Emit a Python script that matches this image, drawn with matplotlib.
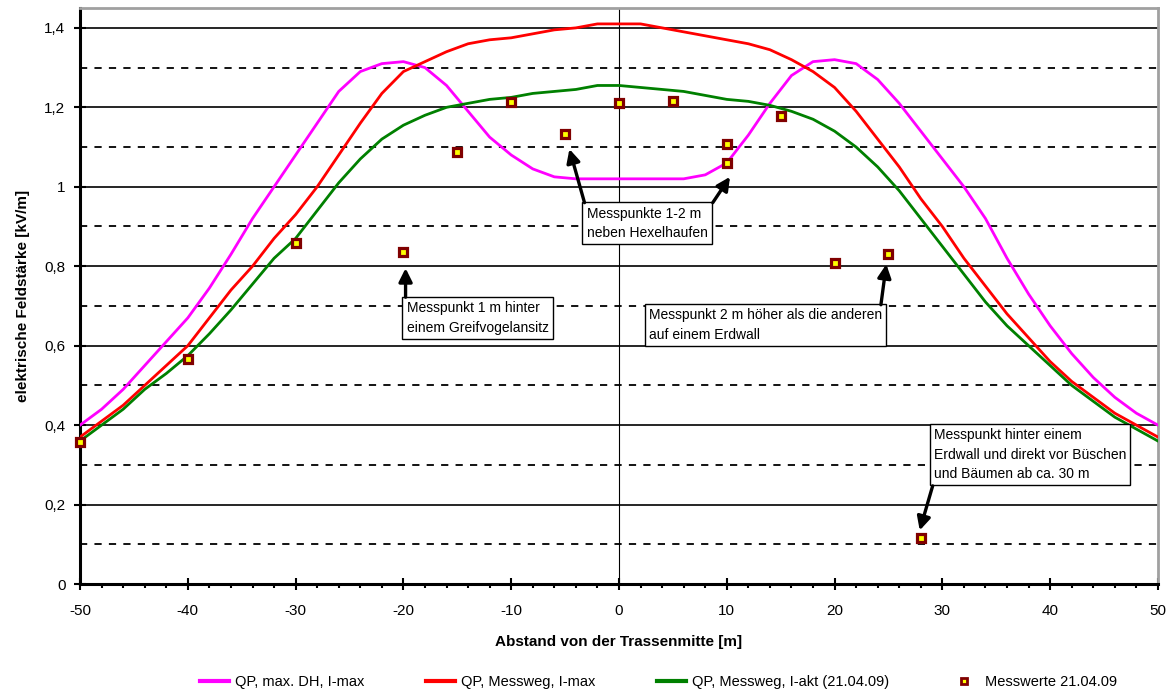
import matplotlib
matplotlib.use("Agg")
import matplotlib.pyplot as plt
from matplotlib.lines import Line2D
from matplotlib.ticker import MultipleLocator, FuncFormatter

plt.rcParams["font.family"] = ["Liberation Sans Narrow", "Liberation Sans", "DejaVu Sans"]
plt.rcParams["axes.unicode_minus"] = False

# distance from line centre [m]
X_CALC = list(range(-50, 51, 2))

# QP, max. DH, I-max
E_MAX_DH = [0.40, 0.44, 0.49, 0.55, 0.61, 0.67, 0.745, 0.83, 0.92, 1.00, 1.08, 1.16, 1.24,
            1.29, 1.31, 1.315, 1.30, 1.255, 1.19, 1.125, 1.08, 1.045, 1.025, 1.02, 1.02,
            1.02, 1.02, 1.02, 1.02, 1.03, 1.06, 1.13, 1.21, 1.28, 1.315, 1.32, 1.31, 1.27,
            1.21, 1.14, 1.07, 1.00, 0.92, 0.82, 0.73, 0.65, 0.58, 0.52, 0.47, 0.43, 0.40]

# QP, Messweg, I-max
E_MESSWEG_MAX = [0.37, 0.41, 0.45, 0.50, 0.55, 0.60, 0.67, 0.74, 0.80, 0.87, 0.93, 1.00,
                 1.08, 1.16, 1.235, 1.29, 1.315, 1.34, 1.36, 1.37, 1.375, 1.385, 1.395, 1.40,
                 1.41, 1.41, 1.41, 1.40, 1.39, 1.38, 1.37, 1.36, 1.345, 1.32, 1.29, 1.25,
                 1.19, 1.12, 1.05, 0.97, 0.90, 0.82, 0.75, 0.68, 0.62, 0.56, 0.51, 0.47,
                 0.43, 0.40, 0.37]

# QP, Messweg, I-akt (21.04.09)
E_MESSWEG_AKT = [0.36, 0.40, 0.44, 0.49, 0.53, 0.575, 0.63, 0.69, 0.755, 0.82, 0.87, 0.94,
                 1.01, 1.07, 1.12, 1.155, 1.18, 1.20, 1.21, 1.22, 1.225, 1.235, 1.24, 1.245,
                 1.255, 1.255, 1.25, 1.245, 1.24, 1.23, 1.22, 1.215, 1.205, 1.19, 1.17, 1.14,
                 1.10, 1.05, 0.99, 0.92, 0.85, 0.78, 0.71, 0.65, 0.60, 0.55, 0.50, 0.46,
                 0.42, 0.39, 0.36]

# Messwerte 21.04.09
X_MESS = [-50, -40, -30, -20, -15, -10, -5, 0, 5, 10, 10, 15, 20, 25, 28]
E_MESS = [0.357, 0.566, 0.858, 0.835, 1.088, 1.213, 1.133, 1.21, 1.216, 1.108, 1.06,
          1.178, 0.808, 0.831, 0.116]

LABELS = ["QP, max. DH, I-max", "QP, Messweg, I-max",
          "QP, Messweg, I-akt (21.04.09)", "Messwerte 21.04.09"]
COLORS = ["#FF00FF", "#FF0000", "#008000"]

fig = plt.figure(figsize=(11.72, 6.97), dpi=100)
ax = fig.add_axes([0.0683, 0.1621, 0.9197, 0.8264])

# horizontal grid: solid on 0.2 steps, dashed in between
for i in range(1, 15):
    v = i / 10
    if i % 2 == 0:
        ax.axhline(v, color="black", lw=1.2, zorder=0)
    else:
        ax.axhline(v, color="black", lw=1.3, ls=(0, (4, 4)), zorder=0)
ax.axvline(0, color="black", lw=0.8, zorder=0)

ax.plot(X_CALC, E_MAX_DH, color=COLORS[0], lw=2, zorder=3)
ax.plot(X_CALC, E_MESSWEG_MAX, color=COLORS[1], lw=2, zorder=3)
ax.plot(X_CALC, E_MESSWEG_AKT, color=COLORS[2], lw=2, zorder=3)
ax.plot(X_MESS, E_MESS, ls="none", marker="s", ms=5.5, mfc="#FFFF00",
        mec="#800000", mew=2.3, zorder=5, clip_on=False)

ax.set_xlim(-50, 50)
ax.set_ylim(0, 1.45)
ax.xaxis.set_major_locator(MultipleLocator(10))
ax.xaxis.set_minor_locator(MultipleLocator(2))
ax.yaxis.set_major_locator(MultipleLocator(0.2))
ax.yaxis.set_major_formatter(FuncFormatter(lambda v, p: f"{v:g}".replace(".", ",")))
ax.tick_params(axis="both", which="major", direction="inout", length=9, width=1.5,
               labelsize=11, pad=6)
ax.tick_params(axis="x", which="minor", direction="out", length=3, width=1.5)
ax.tick_params(axis="x", which="major", pad=10)

for s in ["left", "bottom"]:
    ax.spines[s].set_linewidth(2.2)
    ax.spines[s].set_color("black")
for s in ["top", "right"]:
    ax.spines[s].set_linewidth(2)
    ax.spines[s].set_color("#a0a0a0")

ax.set_xlabel("Abstand von der Trassenmitte [m]", fontsize=11, fontweight="bold", labelpad=12)
ax.set_ylabel("elektrische Feldstärke [kV/m]", fontsize=11, fontweight="bold", labelpad=10)

# annotations
box = dict(boxstyle="square,pad=0.3", fc="white", ec="black", lw=1)
arrow = dict(arrowstyle="-|>", lw=2.4, color="black", mutation_scale=20, shrinkA=0, shrinkB=0)
tfs = 10

ax.text(-19.7, 0.67, "Messpunkt 1 m hinter\neinem Greifvogelansitz", fontsize=tfs,
        va="center", ha="left", bbox=box, zorder=6, linespacing=1.5)
ax.annotate("", xy=(-19.8, 0.795), xytext=(-19.8, 0.722), arrowprops=arrow, zorder=7)

ax.text(-3.0, 0.908, "Messpunkte 1-2 m\nneben Hexelhaufen", fontsize=tfs,
        va="center", ha="left", bbox=box, zorder=6, linespacing=1.5)
ax.annotate("", xy=(-4.6, 1.095), xytext=(-3.2, 0.96), arrowprops=arrow, zorder=7)
ax.annotate("", xy=(10.3, 1.025), xytext=(8.7, 0.96), arrowprops=arrow, zorder=7)

ax.text(2.8, 0.652, "Messpunkt 2 m höher als die anderen\nauf einem Erdwall", fontsize=tfs,
        va="center", ha="left", bbox=box, zorder=6, linespacing=1.5)
ax.annotate("", xy=(24.8, 0.805), xytext=(24.3, 0.703), arrowprops=arrow, zorder=7)

ax.text(29.2, 0.326, "Messpunkt hinter einem\nErdwall und direkt vor Büschen\nund Bäumen ab ca. 30 m",
        fontsize=tfs, va="center", ha="left", bbox=box, zorder=6, linespacing=1.5)
ax.annotate("", xy=(27.9, 0.135), xytext=(29.1, 0.247), arrowprops=arrow, zorder=7)

handles = [Line2D([], [], color=c, lw=3) for c in COLORS]
handles.append(Line2D([], [], ls="none", marker="s", ms=4, mfc="#FFFF00", mec="#800000", mew=2))
fig.legend(handles, LABELS, loc="center", bbox_to_anchor=(0.562, 0.022), ncol=4,
           frameon=False, fontsize=10.5, columnspacing=4.2, handlelength=2.0, handletextpad=0.4)

fig.savefig("out.png", dpi=100)
